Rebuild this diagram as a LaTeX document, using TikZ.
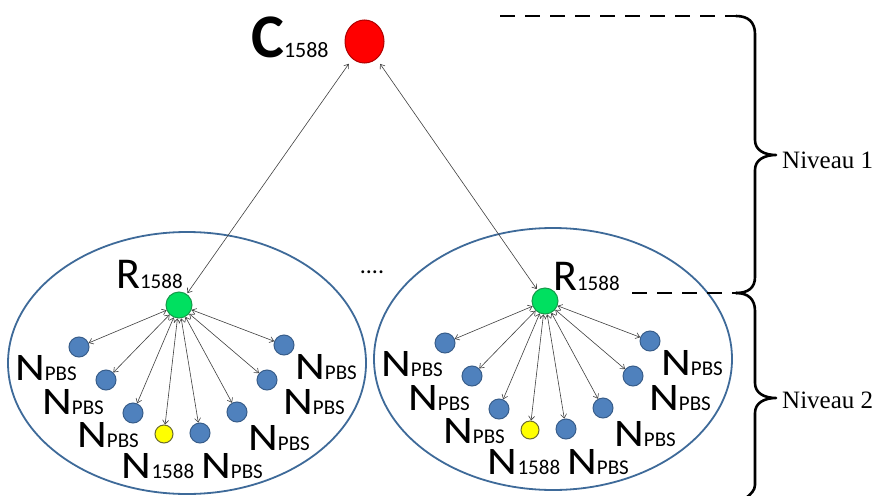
\documentclass[tikz,border=0pt]{standalone}
\usepackage{fontspec}
\setmainfont{Carlito}
\newfontfamily\nivfont{Liberation Serif}
\usepackage{graphicx}
\usetikzlibrary{arrows.meta,shapes.geometric}
\definecolor{ellblue}{HTML}{3E6A99}
\definecolor{nblue}{HTML}{4F81BD}
\definecolor{nblueb}{HTML}{385D8A}
\definecolor{ngreen}{HTML}{00E060}
\definecolor{ngreenb}{HTML}{169A4A}
\definecolor{nyellow}{HTML}{FFFF00}
\definecolor{nyellowb}{HTML}{6B6B30}
\definecolor{nred}{HTML}{FF0000}
\definecolor{nredb}{HTML}{B00000}
\definecolor{linkgray}{HTML}{404040}
\newcommand\lblN[1]{{\fontsize{39}{39}\selectfont\scalebox{1.18}[1]{N}}{\fontsize{21}{21}\selectfont #1}}
\newcommand\lblR{{\fontsize{44}{44}\selectfont R}{\fontsize{21}{21}\selectfont 1588}}
\tikzset{
  ell/.style={draw=ellblue, line width=1.8pt},
  bnode/.style={circle, fill=nblue, draw=nblueb, line width=1pt, minimum size=20pt, inner sep=0pt},
  ynode/.style={circle, fill=nyellow, draw=nyellowb, line width=1pt, minimum size=18pt, inner sep=0pt},
  gnode/.style={circle, fill=ngreen, draw=ngreenb, line width=1pt, minimum size=26pt, inner sep=0pt},
  spoke/.style={draw=linkgray, line width=0.6pt, {Straight Barb[length=4pt,width=6pt]}-{Straight Barb[length=4pt,width=6pt]}},
  lbl/.style={anchor=base, inner sep=0pt},
  dashline/.style={line width=2.6pt, dash pattern=on 15pt off 10pt},
  bracestyle/.style={line width=2.6pt, line cap=round, line join=round},
  niv/.style={anchor=base west, inner sep=0pt, font=\nivfont\fontsize{25}{25}\selectfont}
}
\newcommand\drawcluster[1]{%
  \draw[ell] (187,363) ellipse [x radius=179, y radius=131];
  \node[gnode] (#1g) at (179,305) {};
  \node[bnode] (#1b1) at (79,347) {};
  \node[bnode] (#1b2) at (106,380) {};
  \node[bnode] (#1b3) at (133,413) {};
  \node[ynode] (#1b4) at (164,434) {};
  \node[bnode] (#1b5) at (200,433) {};
  \node[bnode] (#1b6) at (237,412) {};
  \node[bnode] (#1b7) at (267,380) {};
  \node[bnode] (#1b8) at (284,345) {};
  \foreach \i in {1,...,8} {\draw[spoke] (#1g) -- (#1b\i);}
  \node[lbl] (#1l1) at (46,380) {\lblN{PBS}};
  \node[lbl] (#1l2) at (73,414) {\lblN{PBS}};
  \node[lbl] (#1l3) at (108,447) {\lblN{PBS}};
  \node[lbl] (#1l4) at (158,478) {\lblN{1588}};
  \node[lbl] (#1l5) at (232,478) {\lblN{PBS}};
  \node[lbl] (#1l6) at (279,450) {\lblN{PBS}};
  \node[lbl] (#1l7) at (314,414) {\lblN{PBS}};
  \node[lbl] (#1l8) at (326,379) {\lblN{PBS}};
}
\begin{document}
\begin{tikzpicture}[x=1pt,y=-1pt]
  \useasboundingbox (0,0) rectangle (885,495);
  \fill[white] (0,0) rectangle (885,495);
  % top node
  \node[ellipse, fill=nred, draw=nredb, line width=1pt, minimum width=39pt, minimum height=43pt, inner sep=0pt] (C) at (364.5,41.5) {};
  \node[anchor=base west, inner sep=0pt] (Clbl) at (251,58) {{\fontsize{62}{62}\selectfont\bfseries C}{\fontsize{22}{22}\selectfont 1588}};
  % clusters
  \begin{scope}
    \drawcluster{L}
  \end{scope}
  \begin{scope}[shift={(366,-4)}]
    \drawcluster{Q}
  \end{scope}
  \node[anchor=base west, inner sep=0pt] (RL) at (116,288) {\lblR};
  \node[anchor=base west, inner sep=0pt] (RQ) at (553,290) {\lblR};
  \node[lbl] (dots) at (372,273) {\fontsize{24}{24}\selectfont ....};
  % level-1 links
  \draw[spoke, shorten <=6pt, shorten >=1pt] (C) -- (Lg);
  \draw[spoke, shorten <=6pt, shorten >=1pt] (C) -- (Qg);
  % dashed level lines
  \coordinate (d1a) at (500,16);
  \coordinate (d1b) at (736,16);
  \coordinate (d2a) at (632,293);
  \coordinate (d2b) at (736,293);
  \draw[dashline] (d1a) -- (d1b);
  \draw[dashline] (d2a) -- (d2b);
  % braces
  \draw[bracestyle] (d1b) .. controls (748,16) and (755,22) .. (755,34) -- (755,140)
     .. controls (755,150) and (764,155) .. (776,155)
     .. controls (764,155) and (755,160) .. (755,170) -- (755,277)
     .. controls (755,288) and (748,293) .. (d2b);
  \draw[bracestyle] (d2b) .. controls (748,293) and (755,299) .. (755,311) -- (755,383)
     .. controls (755,393) and (764,398) .. (776,398)
     .. controls (764,398) and (755,403) .. (755,413) -- (755,485)
     .. controls (755,490) and (751,494) .. (746,498);
  \node[niv] (n1) at (782,168) {Niveau 1};
  \node[niv] (n2) at (782,408) {Niveau 2};
\end{tikzpicture}
\end{document}
